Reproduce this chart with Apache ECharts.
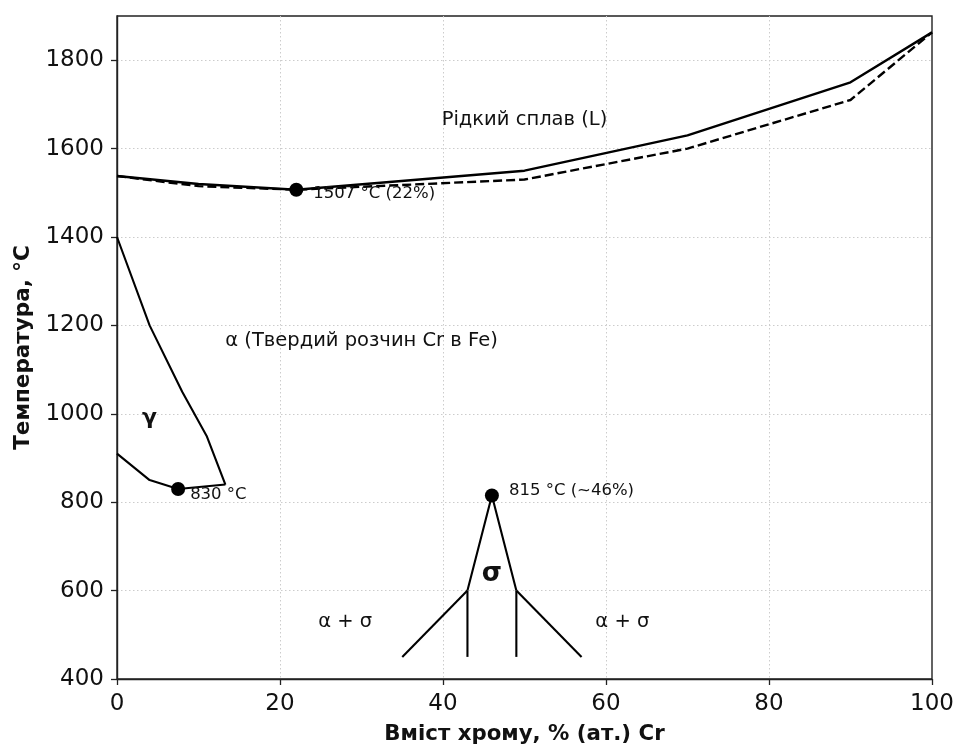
<!DOCTYPE html>
<html><head><meta charset="utf-8">
<script src="https://cdn.jsdelivr.net/npm/echarts@6/dist/echarts.min.js"></script>
<style>html,body{margin:0;padding:0;background:#fff}#c{width:956px;height:745px}</style>
</head><body><div id="c"></div>
<script>
// Liquidus / solidus (Fe–Cr)
const liquidusX = [0, 10, 22, 50, 70, 90, 100];
const liquidusT = [1538, 1520, 1507, 1550, 1630, 1750, 1863];
const solidusX = [0, 10, 22, 50, 70, 90, 100];
const solidusT = [1538, 1515, 1507, 1530, 1600, 1710, 1863];
// gamma loop
const gammaUpperX = [0, 4, 8, 11, 13.3];
const gammaUpperT = [1400, 1200, 1050, 950, 840];
const gammaLowerX = [0, 4, 7.5, 13.3];
const gammaLowerT = [910, 850, 830, 840];
// sigma phase
const sigmaX = [43, 46, 49];
const sigmaT = [600, 815, 600];
const sigmaLeftVertX = [43, 43];
const sigmaLeftVertT = [600, 450];
const sigmaRightVertX = [49, 49];
const sigmaRightVertT = [600, 450];
const sigmaLeftOuterX = [43, 35];
const sigmaLeftOuterT = [600, 450];
const sigmaRightOuterX = [49, 57];
const sigmaRightOuterT = [600, 450];
// key points
const pointX = [22, 7.5, 46];
const pointT = [1507, 830, 815];
const pointLabels = ['1507 °C (22%)', '830 °C', '815 °C (~46%)'];
// region labels
const regionText = ['Рідкий сплав (L)', 'α (Твердий розчин Cr в Fe)', 'γ', 'σ', 'α + σ', 'α + σ'];
const regionX = [50, 30, 4, 46, 28, 62];
const regionT = [1664, 1164, 990, 636, 530, 530];
// axis ticks
const xTicks = [0, 20, 40, 60, 80, 100];
const yTicks = [400, 600, 800, 1000, 1200, 1400, 1600, 1800];

const FONT = 'DejaVu Sans';
const INK = '#111';
const zip = (xs, ys) => xs.map((x, i) => [x, ys[i]]);
const lineSeries = (xs, ys, w, dashed) => ({
  type: 'line', data: zip(xs, ys), symbol: 'none', animation: false,
  lineStyle: { color: '#000', width: w, type: dashed ? [9, 4] : 'solid', opacity: 1 },
  z: 3
});

const pointOffsets = [[0, 4], [0, 6], [0, -5]];
const pointDist = [10, 5, 10];
const regionStyles = [
  { fontSize: 19.5, fontWeight: 'normal' },
  { fontSize: 19.5, fontWeight: 'normal' },
  { fontSize: 22, fontWeight: 'bold' },
  { fontSize: 26, fontWeight: 'bold' },
  { fontSize: 19.5, fontWeight: 'normal' },
  { fontSize: 19.5, fontWeight: 'normal' }
];

const axisCommon = {
  axisLine: { show: true, lineStyle: { color: '#222', width: 1.4 } },
  axisTick: { show: true, length: 6, lineStyle: { color: '#222', width: 1.3 } },
  splitLine: { show: true, showMinLine: false, showMaxLine: false,
    lineStyle: { color: '#cccccc', width: 1, type: [1.5, 2.5] } }
};

const chart = echarts.init(document.getElementById('c'), null, { renderer: 'canvas' });
chart.setOption({
  animation: false,
  backgroundColor: '#fff',
  textStyle: { fontFamily: FONT },
  grid: { left: 117, right: 24, top: 16, bottom: 66, containLabel: false, outerBoundsMode: 'none',
    show: true, borderColor: '#222', borderWidth: 1.4, backgroundColor: 'transparent' },
  xAxis: Object.assign({
    type: 'value', min: xTicks[0], max: xTicks[xTicks.length - 1], interval: 20,
    name: 'Вміст хрому, % (ат.) Cr', nameLocation: 'middle', nameGap: 45,
    nameTextStyle: { fontFamily: FONT, fontSize: 21.3, fontWeight: 'bold', color: INK },
    axisLabel: { fontFamily: FONT, fontSize: 23, color: INK, margin: 14 }
  }, axisCommon),
  yAxis: Object.assign({
    type: 'value', min: yTicks[0], max: 1900, interval: 200,
    name: 'Температура, °C', nameLocation: 'middle', nameGap: 82,
    nameTextStyle: { fontFamily: FONT, fontSize: 21.5, fontWeight: 'bold', color: INK },
    axisLabel: { fontFamily: FONT, fontSize: 23, color: INK, margin: 13, showMaxLabel: false,
      formatter: v => (yTicks.indexOf(v) >= 0 ? String(v) : '') }
  }, axisCommon),
  series: [
    lineSeries(liquidusX, liquidusT, 2.4, false),
    lineSeries(solidusX, solidusT, 2.4, true),
    lineSeries(gammaUpperX, gammaUpperT, 2.1, false),
    lineSeries(gammaLowerX, gammaLowerT, 2.1, false),
    lineSeries(sigmaX, sigmaT, 2.1, false),
    lineSeries(sigmaLeftVertX, sigmaLeftVertT, 2.1, false),
    lineSeries(sigmaRightVertX, sigmaRightVertT, 2.1, false),
    lineSeries(sigmaLeftOuterX, sigmaLeftOuterT, 2.1, false),
    lineSeries(sigmaRightOuterX, sigmaRightOuterT, 2.1, false),
    {
      type: 'scatter', symbol: 'circle', symbolSize: 14, z: 5, animation: false,
      itemStyle: { color: '#000', opacity: 1 },
      data: pointX.map((x, i) => ({
        value: [x, pointT[i]],
        label: { show: true, formatter: pointLabels[i], position: 'right', distance: pointDist[i],
          offset: pointOffsets[i], fontFamily: FONT, fontSize: 16.5, color: INK, opacity: 1 }
      }))
    },
    {
      type: 'scatter', symbolSize: 0, z: 6, animation: false, silent: true,
      itemStyle: { opacity: 1 },
      data: regionX.map((x, i) => ({
        value: [x, regionT[i]],
        label: { show: true, formatter: regionText[i], position: 'inside', opacity: 1,
          fontFamily: FONT, fontSize: regionStyles[i].fontSize, fontWeight: regionStyles[i].fontWeight, color: INK }
      }))
    }
  ]
});
</script></body></html>
